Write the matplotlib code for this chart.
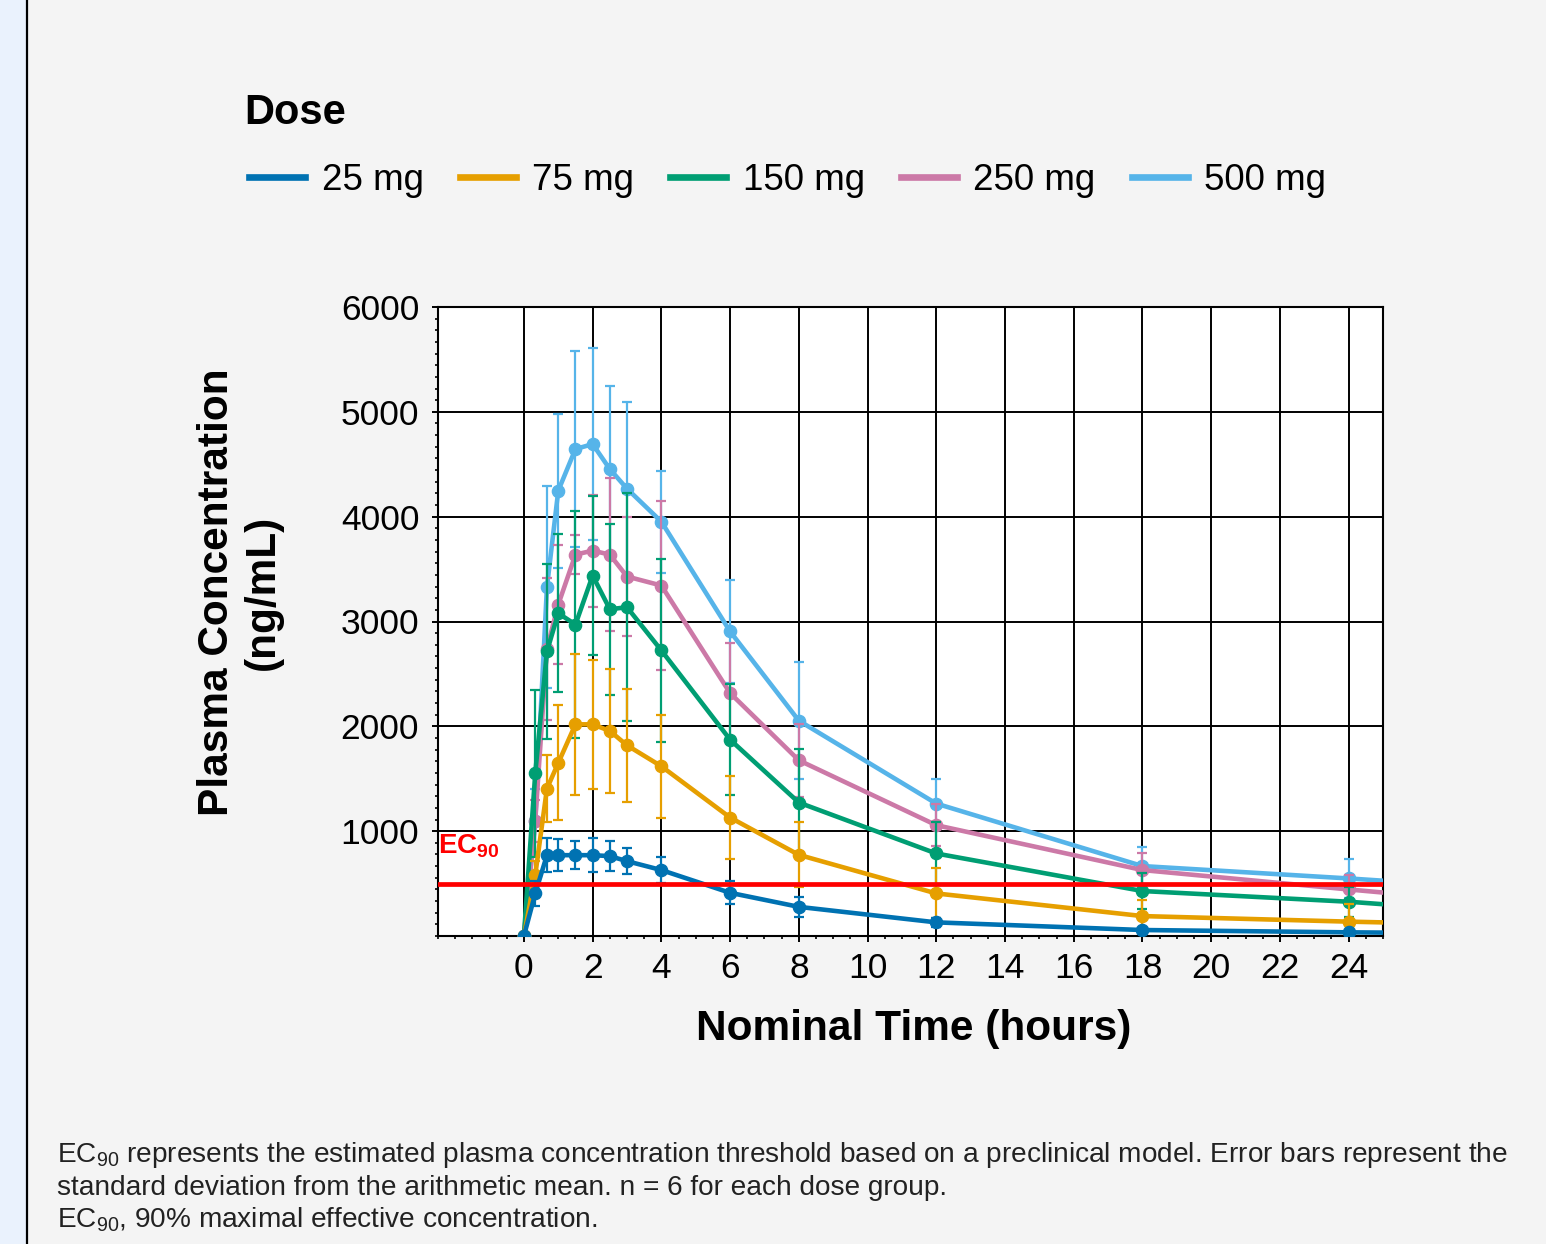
import matplotlib
matplotlib.use("Agg")
import matplotlib.pyplot as plt
from matplotlib.lines import Line2D
from matplotlib.patches import Rectangle
from matplotlib.ticker import FixedLocator, MultipleLocator, AutoMinorLocator

plt.rcParams['font.family'] = ['Liberation Sans', 'DejaVu Sans']
plt.rcParams['mathtext.fontset'] = 'custom'
plt.rcParams['mathtext.rm'] = 'Liberation Sans'
plt.rcParams['mathtext.it'] = 'Liberation Sans:italic'
plt.rcParams['mathtext.bf'] = 'Liberation Sans:bold'

# Datos (horas, ng/mL) - el ultimo punto (36 h) queda fuera del eje
tiempo = [0, 0.33, 0.67, 1, 1.5, 2, 2.5, 3, 4, 6, 8, 12, 18, 24, 36]

c25 = [0, 406, 771, 771, 771, 771, 762, 714, 629, 412, 278, 130, 57, 35, 5]
sd25 = [0, 120, 160, 150, 134, 160, 143, 121, 120, 110, 92, 40, 20, 15, 0]

c75 = [0, 581, 1406, 1651, 2019, 2019, 1956, 1819, 1619, 1130, 774, 406, 190, 137, 50]
sd75 = [0, 130, 318, 549, 673, 616, 593, 540, 492, 398, 309, 238, 153, 168, 0]

c150 = [0, 1552, 2714, 3079, 2971, 3438, 3117, 3136, 2724, 1873, 1273, 787, 429, 327, 40]
sd150 = [0, 797, 835, 756, 1086, 762, 816, 1089, 876, 528, 511, 296, 168, 143, 0]

c250 = [0, 1100, 2740, 3162, 3638, 3676, 3638, 3429, 3343, 2317, 1676, 1057, 629, 444, 90]
sd250 = [0, 200, 676, 570, 184, 533, 727, 570, 803, 476, 350, 200, 158, 137, 0]

c500 = [0, 1100, 3327, 4248, 4645, 4692, 4454, 4267, 3952, 2905, 2054, 1263, 667, 549, 290]
sd500 = [0, 300, 962, 736, 939, 914, 794, 831, 486, 492, 555, 239, 184, 184, 0]

dosis = ['25 mg', '75 mg', '150 mg', '250 mg', '500 mg']
medias = [c25, c75, c150, c250, c500]
desv = [sd25, sd75, sd150, sd250, sd500]
colores = ['#0072B2', '#E69F00', '#009E73', '#CC79A7', '#56B4E9']

ec90 = 500

W, H = 1546, 1244
fig = plt.figure(figsize=(W / 100, H / 100), dpi=100)
fig.patch.set_facecolor('#f4f4f4')

# franja izquierda y linea negra
fig.patches.append(Rectangle((0, 0), 26 / W, 1, transform=fig.transFigure,
                             facecolor='#eaf2fd', edgecolor='none', zorder=0))
fig.add_artist(Line2D([27 / W, 27 / W], [0, 1], transform=fig.transFigure,
                      color='black', lw=1.6))

ax = fig.add_axes([438 / W, 1 - 936 / H, 945 / W, 629 / H])
ax.set_facecolor('white')

# la dosis menor queda encima
for i in range(len(dosis)):
    ax.errorbar(tiempo, medias[i], yerr=desv[i], color=colores[i], lw=3.3,
                marker='o', ms=8.8, elinewidth=1.6, capsize=3.8, capthick=1.6,
                zorder=9 - i)

ax.axhline(ec90, color='#ff0000', lw=3.4, zorder=10)
ax.text(-2.5, 790, r'$\mathbf{EC}_{\mathbf{90}}$', color='#ff0000',
        fontsize=20, ha='left', va='baseline', zorder=11)

ax.set_xlim(-2.5, 25)
ax.set_ylim(0, 6000)
ax.xaxis.set_major_locator(FixedLocator(list(range(0, 25, 2))))
ax.xaxis.set_minor_locator(MultipleLocator(0.5))
ax.yaxis.set_major_locator(FixedLocator([1000, 2000, 3000, 4000, 5000, 6000]))
ax.yaxis.set_minor_locator(AutoMinorLocator(9))
ax.grid(True, which='major', color='black', lw=1.4)
ax.set_axisbelow(True)
for s in ax.spines.values():
    s.set_color('black')
    s.set_linewidth(1.5)
ax.tick_params(which='major', length=4.5, width=1.4, labelsize=25.5)
ax.tick_params(axis='x', which='major', pad=7)
ax.tick_params(axis='y', which='major', pad=9)
ax.tick_params(which='minor', length=2.5, width=1.2)

fig.text(914 / W, 1 - 1040 / H, 'Nominal Time (hours)', fontsize=30.5,
         fontweight='bold', ha='center', va='baseline')
fig.text(240 / W, 1 - 592 / H, 'Plasma Concentration\n(ng/mL)', fontsize=30.5,
         fontweight='bold', rotation=90, ha='center', va='center',
         multialignment='center', linespacing=1.2)

# Leyenda
fig.text(244 / W, 1 - 124 / H, 'Dose', fontsize=30, fontweight='bold',
         ha='left', va='baseline')
manejadores = [Line2D([], [], color=c, lw=4.8) for c in colores]
fig.legend(manejadores, dosis, loc='center left',
           bbox_to_anchor=(249 / W, 1 - 180 / H), ncol=5, frameon=False,
           fontsize=26.5, handlelength=1.52, handletextpad=0.45,
           columnspacing=0.98, borderpad=0, borderaxespad=0)

# Nota al pie
nota = [r'EC$_{90}$ represents the estimated plasma concentration threshold based on a preclinical model. Error bars represent the',
        'standard deviation from the arithmetic mean. n = 6 for each dose group.',
        r'EC$_{90}$, 90% maximal effective concentration.']
for k, y in enumerate([1162, 1195, 1227]):
    fig.text(57 / W, 1 - y / H, nota[k], fontsize=20.2, color='#222222',
             ha='left', va='baseline')

fig.savefig('out.png', dpi=100, facecolor=fig.get_facecolor())
